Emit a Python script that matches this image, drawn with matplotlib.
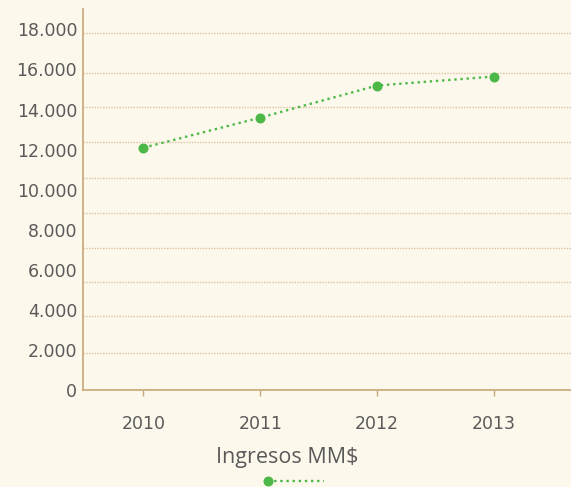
import numpy as np
import matplotlib
matplotlib.use("Agg")
from matplotlib import pyplot as plt
from matplotlib.legend_handler import HandlerLine2DCompound

# data
years = ["2010", "2011", "2012", "2013"]
ingresos = [12100, 13600, 15200, 15650]
y_ticks = [0, 2000, 4000, 6000, 8000, 10000, 12000, 14000, 16000, 18000]
# the dotted guide lines in the original do not sit on the ticks
grid_levels = [1890, 3725, 5390, 7125, 8840, 10610, 12390, 14140, 15810, 17810]

bg = "#fdf8ec"
green = "#4cb848"
tan = "#c9a877"
grid_col = "#dcc4a0"
text_col = "#5a5a5a"


class LeftMarker(HandlerLine2DCompound):
    # legend handle with the dot at the left end of the line
    def get_xdata(self, legend, xdescent, ydescent, width, height, fontsize):
        xdata = np.linspace(-xdescent, -xdescent + width, 2)
        return xdata, xdata[:1]


def fmt(v):
    return f"{v:,.0f}".replace(",", ".")


plt.rcParams['font.family'] = ['DejaVu Sans']

fig = plt.figure(figsize=(5.71, 4.87), dpi=100, facecolor=bg)
ax = fig.add_axes([0.1448, 0.1982, 0.8552, 0.7827])
ax.set_facecolor(bg)

x = np.arange(len(years))
line, = ax.plot(x, ingresos, color=green, linestyle=(0, (1, 1.6)), linewidth=1.7,
                marker="o", markersize=7.2, markeredgewidth=0, label=" ")

ax.set_xlim(-0.52, 3.66)
ax.set_ylim(0, 19000)
ax.set_xticks(x)
ax.set_xticklabels(years)
ax.set_yticks(y_ticks)
ax.set_yticklabels([fmt(v) for v in y_ticks])
ax.set_yticks(grid_levels, minor=True)
ax.grid(which="minor", axis="y", color=grid_col, linestyle=(0, (1, 1)), linewidth=1)
ax.set_axisbelow(True)

for s in ["top", "right"]:
    ax.spines[s].set_visible(False)
for s in ["left", "bottom"]:
    ax.spines[s].set_color(tan)
    ax.spines[s].set_linewidth(1.2)

ax.tick_params(axis="y", which="both", length=0, pad=4, labelsize=12.5, labelcolor=text_col)
ax.tick_params(axis="x", length=4, width=1, color=tan, pad=14, labelsize=12.5, labelcolor=text_col)

ax.set_xlabel("Ingresos MM$", fontsize=15.5, color=text_col, va="center",
              family=["Open Sans", "DejaVu Sans"])
ax.xaxis.set_label_coords(0.418, -0.177)

fig.legend(handles=[line], loc="center left", bbox_to_anchor=(0.47, 0.01),
           frameon=False, handlelength=3.1, handletextpad=0, borderpad=0,
           borderaxespad=0, fontsize=13, handler_map={line: LeftMarker()})

fig.savefig("out.png", dpi=100, facecolor=bg)
